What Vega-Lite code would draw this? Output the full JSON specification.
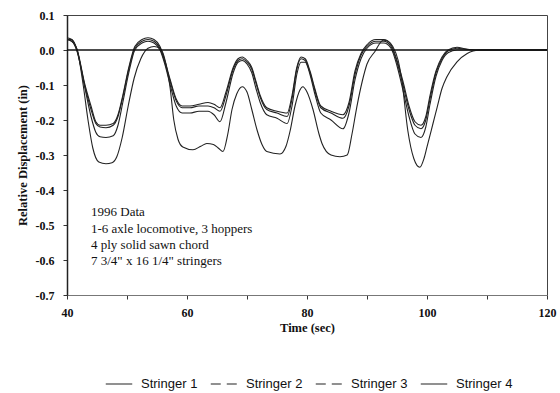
{
  "$schema": "https://vega.github.io/schema/vega-lite/v6.json",
  "width": 480,
  "height": 280,
  "autosize": {"type": "none"},
  "padding": {"left": 67, "top": 15, "right": 13, "bottom": 98},
  "background": "white",
  "config": {
    "view": {"stroke": "#444", "strokeWidth": 1},
    "axis": {"grid": false, "labelFont": "Liberation Serif", "labelFontWeight": "bold", "labelFontSize": 12, "labelColor": "#111", "titleFont": "Liberation Serif", "titleFontWeight": "bold", "titleFontSize": 12.5, "titleColor": "#111", "tickColor": "#333", "domainColor": "#333", "labelOverlap": false}
  },
  "layer": [
    {
      "data": {"values": [
        {"t":40,"v":0.03,"s":"Stringer 1"},{"t":40.8,"v":0.03,"s":"Stringer 1"},{"t":41.7,"v":0.0,"s":"Stringer 1"},{"t":43,"v":-0.1,"s":"Stringer 1"},{"t":44,"v":-0.16,"s":"Stringer 1"},{"t":44.8,"v":-0.205,"s":"Stringer 1"},{"t":45.5,"v":-0.215,"s":"Stringer 1"},{"t":46.5,"v":-0.215,"s":"Stringer 1"},{"t":47.7,"v":-0.21,"s":"Stringer 1"},{"t":48.5,"v":-0.185,"s":"Stringer 1"},{"t":49.3,"v":-0.13,"s":"Stringer 1"},{"t":50.3,"v":-0.05,"s":"Stringer 1"},{"t":51.3,"v":0.01,"s":"Stringer 1"},{"t":52.5,"v":0.03,"s":"Stringer 1"},{"t":53.5,"v":0.035,"s":"Stringer 1"},{"t":54.5,"v":0.03,"s":"Stringer 1"},{"t":55.5,"v":0.01,"s":"Stringer 1"},{"t":56.3,"v":-0.03,"s":"Stringer 1"},{"t":57.2,"v":-0.085,"s":"Stringer 1"},{"t":58.2,"v":-0.14,"s":"Stringer 1"},{"t":59.2,"v":-0.16,"s":"Stringer 1"},{"t":60.5,"v":-0.16,"s":"Stringer 1"},{"t":62,"v":-0.155,"s":"Stringer 1"},{"t":63.5,"v":-0.15,"s":"Stringer 1"},{"t":64.5,"v":-0.155,"s":"Stringer 1"},{"t":65.5,"v":-0.165,"s":"Stringer 1"},{"t":66.5,"v":-0.12,"s":"Stringer 1"},{"t":67.7,"v":-0.05,"s":"Stringer 1"},{"t":68.5,"v":-0.025,"s":"Stringer 1"},{"t":69.2,"v":-0.02,"s":"Stringer 1"},{"t":70,"v":-0.03,"s":"Stringer 1"},{"t":70.8,"v":-0.05,"s":"Stringer 1"},{"t":71.5,"v":-0.09,"s":"Stringer 1"},{"t":72.2,"v":-0.13,"s":"Stringer 1"},{"t":73.3,"v":-0.165,"s":"Stringer 1"},{"t":75,"v":-0.175,"s":"Stringer 1"},{"t":76.7,"v":-0.18,"s":"Stringer 1"},{"t":77.5,"v":-0.13,"s":"Stringer 1"},{"t":78.3,"v":-0.05,"s":"Stringer 1"},{"t":79,"v":-0.02,"s":"Stringer 1"},{"t":79.7,"v":-0.025,"s":"Stringer 1"},{"t":80.5,"v":-0.06,"s":"Stringer 1"},{"t":81.3,"v":-0.11,"s":"Stringer 1"},{"t":82.3,"v":-0.16,"s":"Stringer 1"},{"t":84,"v":-0.175,"s":"Stringer 1"},{"t":86,"v":-0.185,"s":"Stringer 1"},{"t":87,"v":-0.15,"s":"Stringer 1"},{"t":88,"v":-0.06,"s":"Stringer 1"},{"t":89,"v":-0.01,"s":"Stringer 1"},{"t":90,"v":0.015,"s":"Stringer 1"},{"t":91.5,"v":0.03,"s":"Stringer 1"},{"t":92.8,"v":0.03,"s":"Stringer 1"},{"t":94,"v":0.015,"s":"Stringer 1"},{"t":95,"v":-0.03,"s":"Stringer 1"},{"t":96,"v":-0.09,"s":"Stringer 1"},{"t":97,"v":-0.16,"s":"Stringer 1"},{"t":98,"v":-0.205,"s":"Stringer 1"},{"t":99,"v":-0.215,"s":"Stringer 1"},{"t":99.8,"v":-0.19,"s":"Stringer 1"},{"t":100.5,"v":-0.13,"s":"Stringer 1"},{"t":101.5,"v":-0.06,"s":"Stringer 1"},{"t":102.5,"v":-0.02,"s":"Stringer 1"},{"t":103.5,"v":0.0,"s":"Stringer 1"},{"t":105,"v":0.008,"s":"Stringer 1"},{"t":106.5,"v":0.003,"s":"Stringer 1"},{"t":108,"v":0.0,"s":"Stringer 1"},{"t":120,"v":0.0,"s":"Stringer 1"},

        {"t":40,"v":0.035,"s":"Stringer 2"},{"t":40.8,"v":0.03,"s":"Stringer 2"},{"t":41.7,"v":-0.003,"s":"Stringer 2"},{"t":43,"v":-0.105,"s":"Stringer 2"},{"t":44,"v":-0.17,"s":"Stringer 2"},{"t":44.8,"v":-0.21,"s":"Stringer 2"},{"t":45.5,"v":-0.22,"s":"Stringer 2"},{"t":46.5,"v":-0.222,"s":"Stringer 2"},{"t":47.7,"v":-0.215,"s":"Stringer 2"},{"t":48.5,"v":-0.19,"s":"Stringer 2"},{"t":49.3,"v":-0.135,"s":"Stringer 2"},{"t":50.3,"v":-0.055,"s":"Stringer 2"},{"t":51.3,"v":0.005,"s":"Stringer 2"},{"t":52.5,"v":0.025,"s":"Stringer 2"},{"t":53.5,"v":0.03,"s":"Stringer 2"},{"t":54.5,"v":0.025,"s":"Stringer 2"},{"t":55.5,"v":0.005,"s":"Stringer 2"},{"t":56.3,"v":-0.035,"s":"Stringer 2"},{"t":57.2,"v":-0.09,"s":"Stringer 2"},{"t":58.2,"v":-0.145,"s":"Stringer 2"},{"t":59.2,"v":-0.165,"s":"Stringer 2"},{"t":60.5,"v":-0.165,"s":"Stringer 2"},{"t":62,"v":-0.16,"s":"Stringer 2"},{"t":63.5,"v":-0.16,"s":"Stringer 2"},{"t":64.5,"v":-0.165,"s":"Stringer 2"},{"t":65.5,"v":-0.175,"s":"Stringer 2"},{"t":66.5,"v":-0.13,"s":"Stringer 2"},{"t":67.7,"v":-0.055,"s":"Stringer 2"},{"t":68.5,"v":-0.03,"s":"Stringer 2"},{"t":69.2,"v":-0.025,"s":"Stringer 2"},{"t":70,"v":-0.035,"s":"Stringer 2"},{"t":70.8,"v":-0.055,"s":"Stringer 2"},{"t":71.5,"v":-0.095,"s":"Stringer 2"},{"t":72.2,"v":-0.135,"s":"Stringer 2"},{"t":73.3,"v":-0.17,"s":"Stringer 2"},{"t":75,"v":-0.18,"s":"Stringer 2"},{"t":76.7,"v":-0.19,"s":"Stringer 2"},{"t":77.5,"v":-0.14,"s":"Stringer 2"},{"t":78.3,"v":-0.055,"s":"Stringer 2"},{"t":79,"v":-0.025,"s":"Stringer 2"},{"t":79.7,"v":-0.03,"s":"Stringer 2"},{"t":80.5,"v":-0.065,"s":"Stringer 2"},{"t":81.3,"v":-0.115,"s":"Stringer 2"},{"t":82.3,"v":-0.165,"s":"Stringer 2"},{"t":84,"v":-0.18,"s":"Stringer 2"},{"t":86,"v":-0.195,"s":"Stringer 2"},{"t":87,"v":-0.16,"s":"Stringer 2"},{"t":88,"v":-0.07,"s":"Stringer 2"},{"t":89,"v":-0.015,"s":"Stringer 2"},{"t":90,"v":0.01,"s":"Stringer 2"},{"t":91.5,"v":0.025,"s":"Stringer 2"},{"t":92.8,"v":0.025,"s":"Stringer 2"},{"t":94,"v":0.01,"s":"Stringer 2"},{"t":95,"v":-0.035,"s":"Stringer 2"},{"t":96,"v":-0.1,"s":"Stringer 2"},{"t":97,"v":-0.17,"s":"Stringer 2"},{"t":98,"v":-0.215,"s":"Stringer 2"},{"t":99,"v":-0.225,"s":"Stringer 2"},{"t":99.8,"v":-0.2,"s":"Stringer 2"},{"t":100.5,"v":-0.14,"s":"Stringer 2"},{"t":101.5,"v":-0.065,"s":"Stringer 2"},{"t":102.5,"v":-0.025,"s":"Stringer 2"},{"t":103.5,"v":-0.003,"s":"Stringer 2"},{"t":105,"v":0.005,"s":"Stringer 2"},{"t":106.5,"v":0.002,"s":"Stringer 2"},{"t":108,"v":0.0,"s":"Stringer 2"},{"t":120,"v":0.0,"s":"Stringer 2"},

        {"t":40,"v":0.03,"s":"Stringer 3"},{"t":40.8,"v":0.025,"s":"Stringer 3"},{"t":41.7,"v":-0.005,"s":"Stringer 3"},{"t":43,"v":-0.11,"s":"Stringer 3"},{"t":44,"v":-0.19,"s":"Stringer 3"},{"t":44.8,"v":-0.235,"s":"Stringer 3"},{"t":45.5,"v":-0.248,"s":"Stringer 3"},{"t":46.5,"v":-0.25,"s":"Stringer 3"},{"t":47.7,"v":-0.245,"s":"Stringer 3"},{"t":48.5,"v":-0.215,"s":"Stringer 3"},{"t":49.3,"v":-0.15,"s":"Stringer 3"},{"t":50.3,"v":-0.065,"s":"Stringer 3"},{"t":51.3,"v":0.0,"s":"Stringer 3"},{"t":52.5,"v":0.02,"s":"Stringer 3"},{"t":53.5,"v":0.025,"s":"Stringer 3"},{"t":54.5,"v":0.02,"s":"Stringer 3"},{"t":55.5,"v":0.0,"s":"Stringer 3"},{"t":56.3,"v":-0.04,"s":"Stringer 3"},{"t":57.2,"v":-0.1,"s":"Stringer 3"},{"t":58.2,"v":-0.16,"s":"Stringer 3"},{"t":59.2,"v":-0.18,"s":"Stringer 3"},{"t":60.5,"v":-0.18,"s":"Stringer 3"},{"t":62,"v":-0.175,"s":"Stringer 3"},{"t":63.5,"v":-0.175,"s":"Stringer 3"},{"t":64.5,"v":-0.185,"s":"Stringer 3"},{"t":65.5,"v":-0.205,"s":"Stringer 3"},{"t":66.5,"v":-0.15,"s":"Stringer 3"},{"t":67.7,"v":-0.065,"s":"Stringer 3"},{"t":68.5,"v":-0.035,"s":"Stringer 3"},{"t":69.2,"v":-0.03,"s":"Stringer 3"},{"t":70,"v":-0.04,"s":"Stringer 3"},{"t":70.8,"v":-0.065,"s":"Stringer 3"},{"t":71.5,"v":-0.11,"s":"Stringer 3"},{"t":72.2,"v":-0.15,"s":"Stringer 3"},{"t":73.3,"v":-0.185,"s":"Stringer 3"},{"t":75,"v":-0.195,"s":"Stringer 3"},{"t":76.7,"v":-0.21,"s":"Stringer 3"},{"t":77.5,"v":-0.16,"s":"Stringer 3"},{"t":78.3,"v":-0.07,"s":"Stringer 3"},{"t":79,"v":-0.035,"s":"Stringer 3"},{"t":79.7,"v":-0.035,"s":"Stringer 3"},{"t":80.5,"v":-0.07,"s":"Stringer 3"},{"t":81.3,"v":-0.125,"s":"Stringer 3"},{"t":82.3,"v":-0.18,"s":"Stringer 3"},{"t":84,"v":-0.2,"s":"Stringer 3"},{"t":86,"v":-0.225,"s":"Stringer 3"},{"t":87,"v":-0.18,"s":"Stringer 3"},{"t":88,"v":-0.085,"s":"Stringer 3"},{"t":89,"v":-0.025,"s":"Stringer 3"},{"t":90,"v":0.005,"s":"Stringer 3"},{"t":91.5,"v":0.02,"s":"Stringer 3"},{"t":92.8,"v":0.02,"s":"Stringer 3"},{"t":94,"v":0.005,"s":"Stringer 3"},{"t":95,"v":-0.045,"s":"Stringer 3"},{"t":96,"v":-0.115,"s":"Stringer 3"},{"t":97,"v":-0.19,"s":"Stringer 3"},{"t":98,"v":-0.24,"s":"Stringer 3"},{"t":99,"v":-0.25,"s":"Stringer 3"},{"t":99.8,"v":-0.22,"s":"Stringer 3"},{"t":100.5,"v":-0.155,"s":"Stringer 3"},{"t":101.5,"v":-0.075,"s":"Stringer 3"},{"t":102.5,"v":-0.03,"s":"Stringer 3"},{"t":103.5,"v":-0.008,"s":"Stringer 3"},{"t":105,"v":0.0,"s":"Stringer 3"},{"t":106.5,"v":0.0,"s":"Stringer 3"},{"t":108,"v":0.0,"s":"Stringer 3"},{"t":120,"v":0.0,"s":"Stringer 3"},

        {"t":40,"v":0.03,"s":"Stringer 4"},{"t":40.8,"v":0.025,"s":"Stringer 4"},{"t":41.7,"v":0.0,"s":"Stringer 4"},{"t":42.7,"v":-0.1,"s":"Stringer 4"},{"t":43.5,"v":-0.2,"s":"Stringer 4"},{"t":44.3,"v":-0.28,"s":"Stringer 4"},{"t":45.3,"v":-0.32,"s":"Stringer 4"},{"t":46.5,"v":-0.325,"s":"Stringer 4"},{"t":47.5,"v":-0.322,"s":"Stringer 4"},{"t":48.3,"v":-0.305,"s":"Stringer 4"},{"t":49.2,"v":-0.25,"s":"Stringer 4"},{"t":50.2,"v":-0.16,"s":"Stringer 4"},{"t":51.2,"v":-0.08,"s":"Stringer 4"},{"t":52.3,"v":-0.025,"s":"Stringer 4"},{"t":53.5,"v":0.005,"s":"Stringer 4"},{"t":54.5,"v":0.01,"s":"Stringer 4"},{"t":55.5,"v":0.005,"s":"Stringer 4"},{"t":56.5,"v":-0.04,"s":"Stringer 4"},{"t":57.2,"v":-0.11,"s":"Stringer 4"},{"t":57.8,"v":-0.2,"s":"Stringer 4"},{"t":58.5,"v":-0.255,"s":"Stringer 4"},{"t":59.3,"v":-0.277,"s":"Stringer 4"},{"t":61,"v":-0.285,"s":"Stringer 4"},{"t":62.3,"v":-0.275,"s":"Stringer 4"},{"t":63.3,"v":-0.267,"s":"Stringer 4"},{"t":64.4,"v":-0.27,"s":"Stringer 4"},{"t":65.2,"v":-0.28,"s":"Stringer 4"},{"t":66,"v":-0.29,"s":"Stringer 4"},{"t":66.8,"v":-0.24,"s":"Stringer 4"},{"t":67.5,"v":-0.17,"s":"Stringer 4"},{"t":68.3,"v":-0.125,"s":"Stringer 4"},{"t":69.2,"v":-0.105,"s":"Stringer 4"},{"t":70,"v":-0.12,"s":"Stringer 4"},{"t":70.8,"v":-0.17,"s":"Stringer 4"},{"t":71.7,"v":-0.23,"s":"Stringer 4"},{"t":72.5,"v":-0.27,"s":"Stringer 4"},{"t":73.3,"v":-0.29,"s":"Stringer 4"},{"t":75.5,"v":-0.297,"s":"Stringer 4"},{"t":76.5,"v":-0.275,"s":"Stringer 4"},{"t":77.2,"v":-0.23,"s":"Stringer 4"},{"t":78,"v":-0.16,"s":"Stringer 4"},{"t":78.8,"v":-0.115,"s":"Stringer 4"},{"t":79.3,"v":-0.105,"s":"Stringer 4"},{"t":80,"v":-0.12,"s":"Stringer 4"},{"t":81,"v":-0.17,"s":"Stringer 4"},{"t":82,"v":-0.24,"s":"Stringer 4"},{"t":82.5,"v":-0.267,"s":"Stringer 4"},{"t":84,"v":-0.3,"s":"Stringer 4"},{"t":85.5,"v":-0.305,"s":"Stringer 4"},{"t":86.7,"v":-0.3,"s":"Stringer 4"},{"t":87.5,"v":-0.24,"s":"Stringer 4"},{"t":88.3,"v":-0.163,"s":"Stringer 4"},{"t":89.2,"v":-0.09,"s":"Stringer 4"},{"t":90,"v":-0.04,"s":"Stringer 4"},{"t":91.3,"v":-0.005,"s":"Stringer 4"},{"t":92.7,"v":0.028,"s":"Stringer 4"},{"t":93.5,"v":0.025,"s":"Stringer 4"},{"t":94.3,"v":0.01,"s":"Stringer 4"},{"t":95.2,"v":-0.03,"s":"Stringer 4"},{"t":95.8,"v":-0.086,"s":"Stringer 4"},{"t":96.8,"v":-0.23,"s":"Stringer 4"},{"t":97.8,"v":-0.31,"s":"Stringer 4"},{"t":98.8,"v":-0.335,"s":"Stringer 4"},{"t":99.5,"v":-0.31,"s":"Stringer 4"},{"t":100,"v":-0.277,"s":"Stringer 4"},{"t":101,"v":-0.21,"s":"Stringer 4"},{"t":101.7,"v":-0.163,"s":"Stringer 4"},{"t":102.5,"v":-0.11,"s":"Stringer 4"},{"t":103.3,"v":-0.077,"s":"Stringer 4"},{"t":105,"v":-0.034,"s":"Stringer 4"},{"t":106.7,"v":-0.01,"s":"Stringer 4"},{"t":107.7,"v":-0.003,"s":"Stringer 4"},{"t":109,"v":0.0,"s":"Stringer 4"},{"t":120,"v":0.0,"s":"Stringer 4"}
      ]},
      "mark": {"type": "line", "strokeWidth": 1.1, "interpolate": "monotone"},
      "encoding": {
        "x": {"field": "t", "type": "quantitative", "scale": {"domain": [40, 120], "nice": false, "zero": false},
              "axis": {"title": "Time (sec)", "values": [40,50,60,70,80,90,100,110,120], "tickCount": 12, "labelExpr": "datum.value % 20 === 0 ? datum.label : ''", "tickSize": 4, "labelPadding": 8, "titlePadding": 3, "domainColor": "#777", "labelFlush": false}},
        "y": {"field": "v", "type": "quantitative", "scale": {"domain": [-0.7, 0.1], "nice": false, "zero": false},
              "axis": {"title": "Relative Displacement (in)", "values": [-0.7,-0.6,-0.5,-0.4,-0.3,-0.2,-0.1,0,0.1], "tickCount": 12, "format": ".1f", "labelExpr": "replace(datum.label, '\u2212', '-')", "tickSize": 4, "labelPadding": 9, "titlePadding": 6, "domainWidth": 1.5, "domainColor": "#222", "labelFlush": false, "labelOverlap": false}},
        "color": {"field": "s", "type": "nominal",
                  "scale": {"domain": ["Stringer 1","Stringer 2","Stringer 3","Stringer 4"], "range": ["#222","#222","#222","#222"]},
                  "legend": {"orient": "none", "legendX": 38, "legendY": 355, "direction": "horizontal", "title": null,
                             "symbolType": "stroke", "symbolSize": 700, "symbolStrokeWidth": 1.2,
                             "labelFont": "Liberation Sans", "labelFontSize": 13, "labelColor": "#111",
                             "columnPadding": 10, "labelOffset": 8,
                             "encode": {"symbols": {"update": {"strokeDash": {"signal": "(datum.value === 'Stringer 2' || datum.value === 'Stringer 3') ? [10,6] : [1,0]"}}}}}}
      }
    },
    {
      "data": {"values": [{"v": 0}]},
      "mark": {"type": "rule", "color": "#111", "strokeWidth": 1.6},
      "encoding": {"y": {"field": "v", "type": "quantitative"}}
    },
    {
      "data": {"values": [
        {"t": 44, "v": -0.463, "label": "1996 Data"},
        {"t": 44, "v": -0.51, "label": "1-6 axle locomotive, 3 hoppers"},
        {"t": 44, "v": -0.557, "label": "4 ply solid sawn chord"},
        {"t": 44, "v": -0.604, "label": "7 3/4\" x 16 1/4\" stringers"}
      ]},
      "mark": {"type": "text", "align": "left", "baseline": "middle", "font": "Liberation Serif", "fontSize": 13, "color": "#111"},
      "encoding": {
        "x": {"field": "t", "type": "quantitative"},
        "y": {"field": "v", "type": "quantitative"},
        "text": {"field": "label"}
      }
    }
  ]
}
